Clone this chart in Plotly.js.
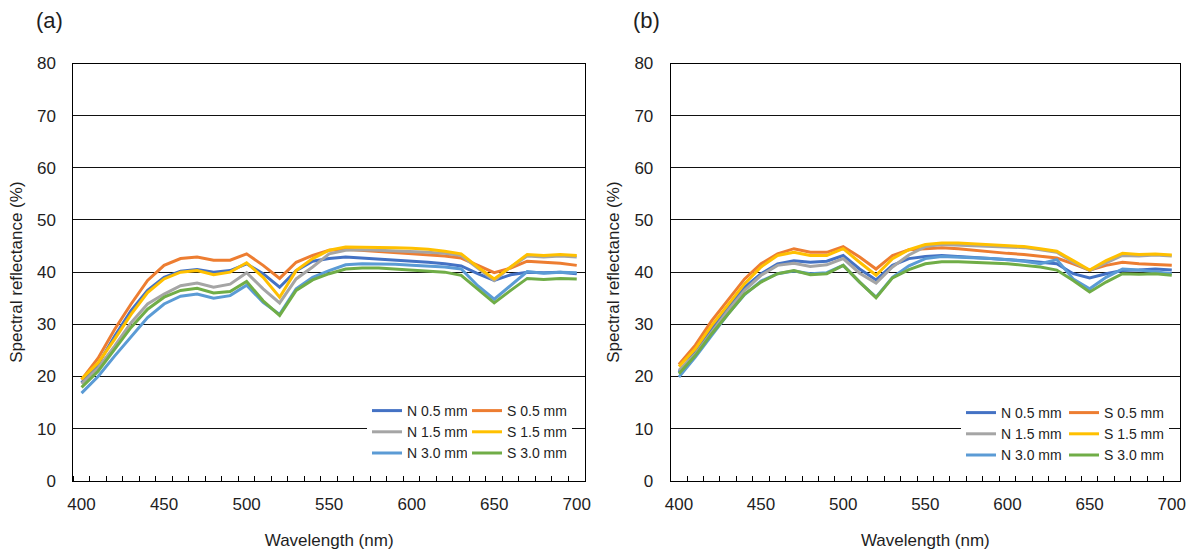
<!DOCTYPE html>
<html><head><meta charset="utf-8">
<script src="https://cdn.plot.ly/plotly-3.0.1.min.js"></script>
<style>html,body{margin:0;padding:0;background:#fff}#chart{width:1194px;height:553px}</style>
</head><body><div id="chart"></div>
<script>
// Wavelength categories (nm)
const wavelengths = [400,410,420,430,440,450,460,470,480,490,500,510,520,530,540,550,560,570,580,590,600,610,620,630,640,650,660,670,680,690,700];
const seriesNames = ['N 0.5 mm','S 0.5 mm','N 1.5 mm','S 1.5 mm','N 3.0 mm','S 3.0 mm'];
const seriesColors = ['#4472C4','#ED7D31','#A5A5A5','#FFC000','#5B9BD5','#70AD47'];
const panelLabels = ['(a)','(b)'];
const yTickValues = [0,10,20,30,40,50,60,70,80];
const xTickValues = [400,450,500,550,600,650,700];

// Panel (a) spectral reflectance (%)
const a_N05 = [18.8,22.3,27.7,32.6,36.5,39.0,40.2,40.5,40.0,40.3,41.6,39.7,37.1,40.3,42.1,42.6,42.9,42.7,42.6,42.4,42.1,41.9,41.6,41.2,39.7,38.4,39.5,40.0,39.9,40.0,39.7];
const a_S05 = [19.4,23.5,29.0,33.9,38.4,41.3,42.6,42.9,42.3,42.3,43.5,41.3,38.8,41.9,43.2,44.2,44.4,44.2,44.0,43.7,43.5,43.4,43.1,42.7,41.3,39.9,40.8,42.1,41.9,41.7,41.3];
const a_N15 = [18.6,21.6,25.8,30.3,33.9,35.8,37.4,37.9,37.1,37.7,39.9,36.8,34.1,38.7,41.0,43.5,44.2,44.3,44.2,44.1,44.0,43.8,43.6,43.2,40.8,38.4,41.0,43.1,42.9,43.1,42.9];
const a_S15 = [19.5,22.6,27.1,31.9,36.1,38.7,40.0,40.3,39.5,40.0,41.8,39.0,35.2,40.3,42.6,44.2,44.8,44.8,44.7,44.7,44.6,44.4,44.0,43.5,41.0,38.7,41.0,43.4,43.2,43.4,43.2];
const a_N30 = [16.8,20.0,23.9,27.7,31.3,33.9,35.4,35.8,35.0,35.5,37.5,34.2,31.9,36.8,39.0,40.3,41.4,41.6,41.6,41.5,41.3,41.2,41.0,40.6,37.4,34.8,37.4,40.1,39.8,40.0,39.9];
const a_S30 = [17.9,21.0,25.2,29.4,32.9,35.2,36.5,36.9,36.0,36.3,38.2,34.5,31.7,36.5,38.5,39.7,40.6,40.8,40.8,40.6,40.5,40.3,40.0,39.4,36.8,34.1,36.5,38.8,38.6,38.8,38.7];

// Panel (b) spectral reflectance (%)
const b_N05 = [20.8,24.7,29.1,33.3,37.1,39.7,41.6,42.2,41.9,42.1,43.2,40.6,38.5,41.3,42.6,43.0,43.2,43.0,42.9,42.7,42.4,42.2,41.9,41.6,39.7,38.9,39.7,40.3,40.4,40.6,40.4];
const b_S05 = [22.3,26.0,30.7,34.6,38.7,41.6,43.5,44.5,43.8,43.8,44.9,42.9,40.6,43.2,44.3,44.5,44.7,44.5,44.2,43.8,43.6,43.4,43.0,42.7,41.6,40.4,41.3,41.9,41.6,41.5,41.3];
const b_N15 = [21.2,24.3,28.5,32.7,36.5,39.4,41.3,41.7,41.1,41.4,42.6,39.8,37.9,41.0,43.3,44.9,45.3,45.2,45.1,45.0,44.8,44.7,44.3,43.8,41.9,40.3,41.8,43.2,43.1,43.3,43.1];
const b_S15 = [21.9,25.3,29.8,33.9,37.8,41.0,43.2,43.8,43.2,43.2,44.5,41.9,39.4,42.6,44.3,45.3,45.6,45.6,45.4,45.3,45.1,44.9,44.5,44.0,42.2,40.4,42.2,43.6,43.4,43.5,43.3];
const b_N30 = [19.9,23.7,27.9,32.0,35.7,38.3,39.7,40.2,39.7,39.9,41.3,38.1,35.2,39.0,41.2,42.6,43.0,42.9,42.7,42.6,42.4,42.1,41.6,42.4,38.7,36.8,39.0,40.6,40.4,40.0,39.7];
const b_S30 = [20.5,24.0,28.2,32.1,35.8,38.1,39.7,40.3,39.5,39.7,41.3,38.1,35.1,38.9,40.5,41.6,42.0,42.0,41.9,41.7,41.6,41.3,41.0,40.4,38.4,36.2,38.1,39.7,39.6,39.7,39.4];

const panelA = [a_N05,a_S05,a_N15,a_S15,a_N30,a_S30];
const panelB = [b_N05,b_S05,b_N15,b_S15,b_N30,b_S30];

const FONT = 'Liberation Sans, Arial, sans-serif';
const TXT = '#1e1e1e';
const traces = [];
function addPanel(vals, xa, ya, legN, legS) {
  vals.forEach((v, i) => {
    traces.push({
      type: 'scatter', mode: 'lines', x: wavelengths, y: v,
      name: seriesNames[i], xaxis: xa, yaxis: ya,
      legend: (i % 2 === 0) ? legN : legS,
      line: {color: seriesColors[i], width: 3}
    });
  });
}
addPanel(panelA, 'x', 'y', 'legend', 'legend2');
addPanel(panelB, 'x2', 'y2', 'legend3', 'legend4');

function xAxis(domain, anchor) {
  return {
    domain: domain, anchor: anchor, range: [395, 705], tickmode: 'array', tickvals: xTickValues,
    ticks: '', showgrid: false, zeroline: false,
    showline: true, linecolor: '#000', linewidth: 1, mirror: true,
    tickfont: {family: FONT, size: 17, color: TXT}, ticklabelstandoff: 8,
    minor: {tick0: 405, dtick: 10, ticks: 'inside', ticklen: 5, tickcolor: '#000', tickwidth: 1, showgrid: false},
    title: {text: 'Wavelength (nm)', font: {family: FONT, size: 17, color: TXT}, standoff: 20},
    automargin: false, fixedrange: true
  };
}
function yAxis(domain, anchor) {
  return {
    domain: domain, anchor: anchor, range: [0, 80], tickmode: 'array', tickvals: yTickValues,
    ticks: '', showgrid: true, gridcolor: '#111', gridwidth: 1, zeroline: false,
    showline: true, linecolor: '#000', linewidth: 1, mirror: true,
    tickfont: {family: FONT, size: 17, color: TXT}, ticklabelstandoff: 13,
    title: {text: 'Spectral reflectance (%)', font: {family: FONT, size: 17, color: TXT}, standoff: 10},
    automargin: false, fixedrange: true
  };
}
function legendAt(xpx, ypx) {
  return {x: xpx / 1194, y: 1 - ypx / 553, xanchor: 'left', yanchor: 'top', xref: 'paper', yref: 'paper',
    bgcolor: '#ffffff', borderwidth: 0, font: {family: FONT, size: 14, color: TXT},
    orientation: 'v', itemwidth: 30, tracegroupgap: 0};
}
const yDom = [1 - 480.8 / 553, 1 - 63.5 / 553];
const layout = {
  width: 1194, height: 553,
  margin: {l: 0, r: 0, t: 0, b: 0},
  paper_bgcolor: '#fff', plot_bgcolor: '#fff',
  showlegend: true,
  xaxis: xAxis([73.3 / 1194, 585 / 1194], 'y'),
  yaxis: yAxis(yDom, 'x'),
  xaxis2: xAxis([670.7 / 1194, 1180 / 1194], 'y2'),
  yaxis2: yAxis(yDom, 'x2'),
  legend: legendAt(367, 395),
  legend2: legendAt(467, 395),
  legend3: legendAt(961, 397),
  legend4: legendAt(1064, 397),
  annotations: [
    {text: panelLabels[0], xref: 'paper', yref: 'paper', x: 49 / 1194, y: 1 - 20.5 / 553, xanchor: 'center', yanchor: 'middle', showarrow: false, font: {family: FONT, size: 22, color: TXT}},
    {text: panelLabels[1], xref: 'paper', yref: 'paper', x: 646.5 / 1194, y: 1 - 20.5 / 553, xanchor: 'center', yanchor: 'middle', showarrow: false, font: {family: FONT, size: 22, color: TXT}}
  ]
};
Plotly.newPlot('chart', traces, layout, {displayModeBar: false, staticPlot: true});
</script>
</body></html>
